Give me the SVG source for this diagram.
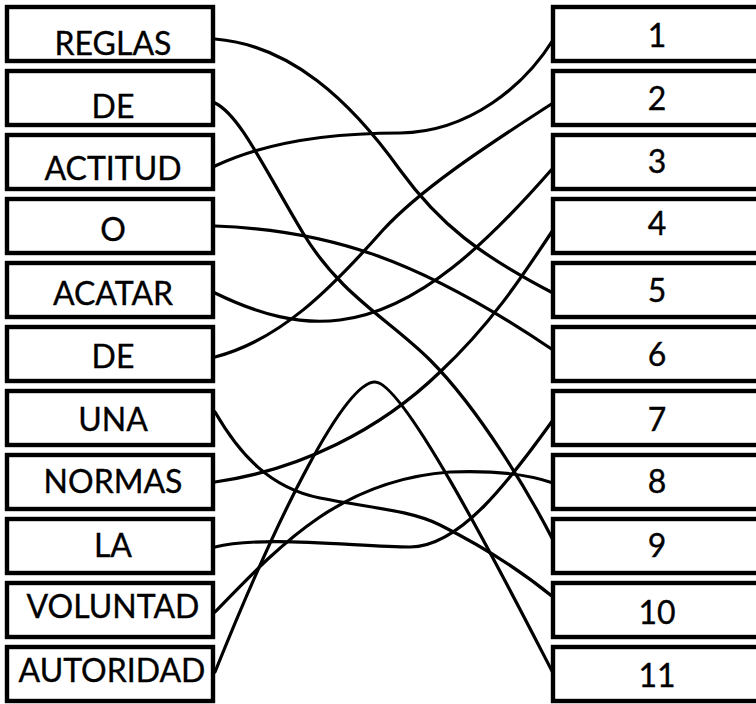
<svg xmlns="http://www.w3.org/2000/svg" width="756" height="704" viewBox="0 0 756 704">
<style>
.box{fill:#fff;stroke:#000;stroke-width:4.4}
.lbl{font-family:Lato,"Liberation Sans",sans-serif;font-size:32px;fill:#000;stroke:#000;stroke-width:0.35;text-anchor:middle}
.con{fill:none;stroke:#000;stroke-width:3.2;stroke-linecap:round}
</style>
<rect width="756" height="704" fill="#fff"/>
<g id="connectors">
<path class="con" d="M215,39 C290,45 350,100 400,170 C440,225 480,255 553,293"/>
<path class="con" d="M215,103 C240,115 265,170 303,233 C340,295 390,320 430,360 C480,410 530,495 553,540"/>
<path class="con" d="M215,166 C270,140 340,133 400,133 C470,132 525,85 553,40"/>
<path class="con" d="M215,226 C330,230 420,260 553,350"/>
<path class="con" d="M215,293 C260,315 300,325 340,320 C420,310 490,240 553,168"/>
<path class="con" d="M215,357 C280,340 330,290 383,230 C420,190 480,150 553,103"/>
<path class="con" d="M215,412 C240,455 270,488 320,498 C370,508 410,510 440,525 C480,545 520,570 553,597"/>
<path class="con" d="M215,482 C300,470 380,430 440,372 C490,325 520,280 553,230"/>
<path class="con" d="M215,547 C260,535 360,547 410,547 C460,547 510,480 553,420"/>
<path class="con" d="M215,612 C280,545 340,480 450,472 C500,470 530,475 553,483"/>
<path class="con" d="M215,672 C280,510 345,382 375,382 C405,382 510,590 553,673"/>
</g>
<g id="L1"><rect class="box" x="7" y="7" width="206" height="54"/><text class="lbl" x="113" y="55">REGLAS</text></g>
<g id="L2"><rect class="box" x="7" y="71" width="206" height="54"/><text class="lbl" x="113" y="118">DE</text></g>
<g id="L3"><rect class="box" x="7" y="135" width="206" height="54"/><text class="lbl" x="113" y="180">ACTITUD</text></g>
<g id="L4"><rect class="box" x="7" y="199" width="206" height="54"/><text class="lbl" x="113" y="241">O</text></g>
<g id="L5"><rect class="box" x="7" y="263" width="206" height="54"/><text class="lbl" x="113" y="305">ACATAR</text></g>
<g id="L6"><rect class="box" x="7" y="327" width="206" height="54"/><text class="lbl" x="113" y="368">DE</text></g>
<g id="L7"><rect class="box" x="7" y="391" width="206" height="54"/><text class="lbl" x="113" y="431">UNA</text></g>
<g id="L8"><rect class="box" x="7" y="455" width="206" height="54"/><text class="lbl" x="113" y="493">NORMAS</text></g>
<g id="L9"><rect class="box" x="7" y="519" width="206" height="54"/><text class="lbl" x="113" y="557">LA</text></g>
<g id="L10"><rect class="box" x="7" y="583" width="206" height="54"/><text class="lbl" x="113" y="618">VOLUNTAD</text></g>
<g id="L11"><rect class="box" x="7" y="647" width="206" height="54"/><text class="lbl" x="112" y="682">AUTORIDAD</text></g>
<g id="R1"><rect class="box" x="553" y="7" width="215" height="54"/><text class="lbl" x="657" y="47">1</text></g>
<g id="R2"><rect class="box" x="553" y="71" width="215" height="54"/><text class="lbl" x="657" y="110">2</text></g>
<g id="R3"><rect class="box" x="553" y="135" width="215" height="54"/><text class="lbl" x="657" y="173">3</text></g>
<g id="R4"><rect class="box" x="553" y="199" width="215" height="54"/><text class="lbl" x="657" y="235">4</text></g>
<g id="R5"><rect class="box" x="553" y="263" width="215" height="54"/><text class="lbl" x="657" y="302">5</text></g>
<g id="R6"><rect class="box" x="553" y="327" width="215" height="54"/><text class="lbl" x="657" y="366">6</text></g>
<g id="R7"><rect class="box" x="553" y="391" width="215" height="54"/><text class="lbl" x="657" y="431">7</text></g>
<g id="R8"><rect class="box" x="553" y="455" width="215" height="54"/><text class="lbl" x="657" y="493">8</text></g>
<g id="R9"><rect class="box" x="553" y="519" width="215" height="54"/><text class="lbl" x="657" y="557">9</text></g>
<g id="R10"><rect class="box" x="553" y="583" width="215" height="54"/><text class="lbl" x="657" y="624">10</text></g>
<g id="R11"><rect class="box" x="553" y="647" width="215" height="54"/><text class="lbl" x="657" y="687">11</text></g>
</svg>
